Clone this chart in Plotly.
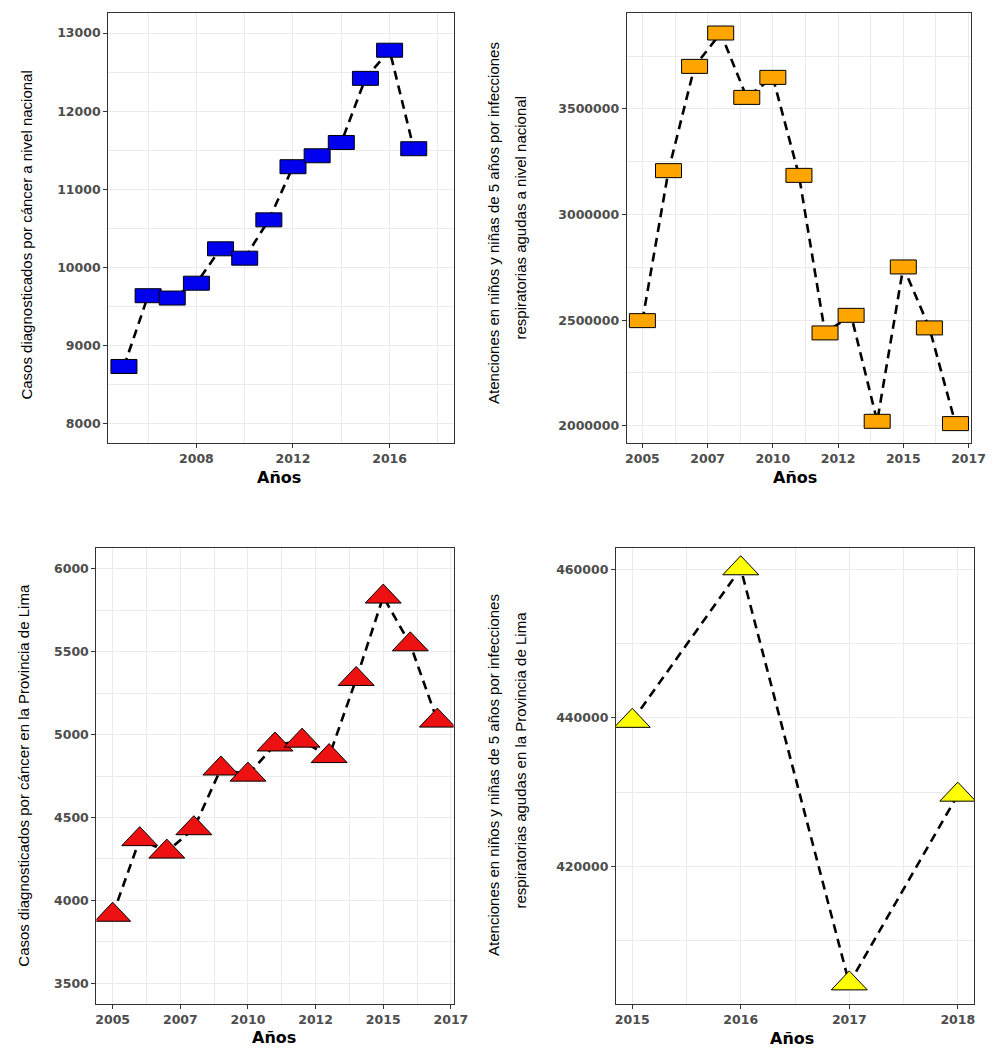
import plotly.graph_objects as go

# ---- data ----
anios = list(range(2005, 2018))
cancer_nacional = [8735, 9640, 9610, 9800, 10240, 10120, 10610, 11290, 11430, 11600, 12420, 12780, 11520]
ira_nacional = [2497600, 3207900, 3701700, 3859800, 3554900, 3649600, 3185600,
                2439400, 2522700, 2020800, 2751900, 2463100, 2009900]
cancer_lima = [3912, 4368, 4293, 4434, 4794, 4757, 4939, 4962, 4869, 5334, 5831, 5543, 5083]
anios_lima_ira = [2015, 2016, 2017, 2018]
ira_lima = [439580, 460100, 404266, 429650]

# tick values / labels
p1_xticks = [2008, 2012, 2016]
p1_yticks = [8000, 9000, 10000, 11000, 12000, 13000]
p2_xticks = [2005, 2007.5, 2010, 2012.5, 2015, 2017.5]
p2_xlabels = ["2005", "2007", "2010", "2012", "2015", "2017"]
p2_yticks = [2000000, 2500000, 3000000, 3500000]
p3_yticks = [3500, 4000, 4500, 5000, 5500, 6000]
p4_xticks = [2015, 2016, 2017, 2018]
p4_yticks = [420000, 440000, 460000]

W, H = 994, 1059

def px(v, total):
    return v / total

fig = go.Figure()

TICKFONT = dict(family="DejaVu Sans", size=12.5, color="#4D4D4D", weight="bold")
GRID = "#EBEBEB"
BORDER = "#333333"

def axis_common():
    return dict(showline=True, mirror=True, linecolor=BORDER, linewidth=1.2,
                ticks="outside", ticklen=4, tickcolor=BORDER, tickwidth=1,
                showgrid=True, gridcolor=GRID, gridwidth=1, zeroline=False,
                tickfont=TICKFONT)

def minor_mid(ticks, lo, hi):
    step = ticks[1] - ticks[0]
    vals = [ticks[0] - step / 2 + i * step for i in range(len(ticks) + 2)]
    return [v for v in vals if lo <= v <= hi]

panels = [
    dict(ax="x", ay="y", xs=anios, ys=cancer_nacional, color="#0000EE", sym="rect",
         xr=[2004.35, 2018.65], yr=[7756, 13256], xt=p1_xticks, xl=[str(v) for v in p1_xticks],
         yt=p1_yticks, xd=[109, 460], yd=[13, 443]),
    dict(ax="x2", ay="y2", xs=anios, ys=ira_nacional, color="#FFA500", sym="rect",
         xr=[2004.4, 2017.6], yr=[1918100, 3954500], xt=p2_xticks, xl=p2_xlabels,
         yt=p2_yticks, xd=[636, 986], yd=[13, 443]),
    dict(ax="x3", ay="y3", xs=anios, ys=cancer_lima, color="#EE1111", sym="tri",
         xr=[2004.4, 2017.6], yr=[3375, 6125], xt=p2_xticks, xl=p2_xlabels,
         yt=p3_yticks, xd=[97, 460], yd=[548, 1004]),
    dict(ax="x4", ay="y4", xs=anios_lima_ira, ys=ira_lima, color="#FFFF00", sym="tri",
         xr=[2014.85, 2018.15], yr=[401521, 462853], xt=p4_xticks, xl=[str(v) for v in p4_xticks],
         yt=p4_yticks, xd=[625, 989], yd=[548, 1004]),
]

shapes = []
for i, p in enumerate(panels):
    fig.add_trace(go.Scatter(
        x=p["xs"], y=p["ys"], mode="lines", xaxis=p["ax"], yaxis=p["ay"],
        line=dict(color="black", width=2.6, dash="9px,6px"), hoverinfo="skip",
        showlegend=False))
    # markers drawn as pixel-sized shapes anchored on each data point
    for xv, yv in zip(p["xs"], p["ys"]):
        if p["sym"] == "rect":
            shapes.append(dict(type="rect", xref=p["ax"], yref=p["ay"],
                               xsizemode="pixel", ysizemode="pixel",
                               xanchor=xv, yanchor=yv, x0=-13, x1=13, y0=-7, y1=7,
                               fillcolor=p["color"], line=dict(color="black", width=1),
                               layer="above"))
        else:
            shapes.append(dict(type="path", xref=p["ax"], yref=p["ay"],
                               xsizemode="pixel", ysizemode="pixel",
                               xanchor=xv, yanchor=yv,
                               path="M -18,-6.3 L 18,-6.3 L 0,12.7 Z",
                               fillcolor=p["color"], line=dict(color="black", width=1),
                               layer="above"))
    n = "" if i == 0 else str(i + 1)
    xa = axis_common()
    xa.update(range=p["xr"], tickmode="array", tickvals=p["xt"], ticktext=p["xl"],
              domain=[px(p["xd"][0], W), px(p["xd"][1], W)], anchor=p["ay"],
              minor=dict(showgrid=True, gridcolor=GRID, gridwidth=1,
                         tickvals=minor_mid(p["xt"], p["xr"][0], p["xr"][1]), ticks=""))
    ya = axis_common()
    ya.update(range=p["yr"], tickmode="array", tickvals=p["yt"],
              ticktext=[str(v) for v in p["yt"]],
              domain=[1 - px(p["yd"][1], H), 1 - px(p["yd"][0], H)], anchor=p["ax"],
              minor=dict(showgrid=True, gridcolor=GRID, gridwidth=1,
                         tickvals=minor_mid(p["yt"], p["yr"][0], p["yr"][1]), ticks=""))
    fig.update_layout({f"xaxis{n}": xa, f"yaxis{n}": ya})

TITLE_FONT = dict(family="Liberation Sans", size=15, color="black")
XT_FONT = dict(family="DejaVu Sans", size=16, color="black", weight="bold")

annotations = []

def ann(text, x, y, font, angle=0):
    annotations.append(dict(text=text, x=x / W, y=1 - y / H, xref="paper", yref="paper",
                            showarrow=False, textangle=angle, font=font,
                            xanchor="center", yanchor="middle"))

# x axis titles
ann("Años", 283, 477, XT_FONT)
ann("Años", 807, 477, XT_FONT)
ann("Años", 277, 1037, XT_FONT)
ann("Años", 804, 1038, XT_FONT)

# y axis titles
ann("Casos diagnosticados por cáncer a nivel nacional", 25, 235, TITLE_FONT, -90)
ann("Atenciones en niños y niñas de 5 años por infecciones", 500, 223, TITLE_FONT, -90)
ann("respiratorias agudas a nivel nacional", 527, 218, TITLE_FONT, -90)
ann("Casos diagnosticados por cáncer en la Provincia de Lima", 22, 775, TITLE_FONT, -90)
ann("Atenciones en niños y niñas de 5 años por infecciones", 500, 775, TITLE_FONT, -90)
ann("respiratorias agudas en la Provincia de Lima", 527, 760, TITLE_FONT, -90)

fig.update_layout(
    width=W, height=H, margin=dict(l=0, r=0, t=0, b=0),
    paper_bgcolor="white", plot_bgcolor="white",
    shapes=shapes, annotations=annotations, showlegend=False,
)

fig.write_html("out.html")
